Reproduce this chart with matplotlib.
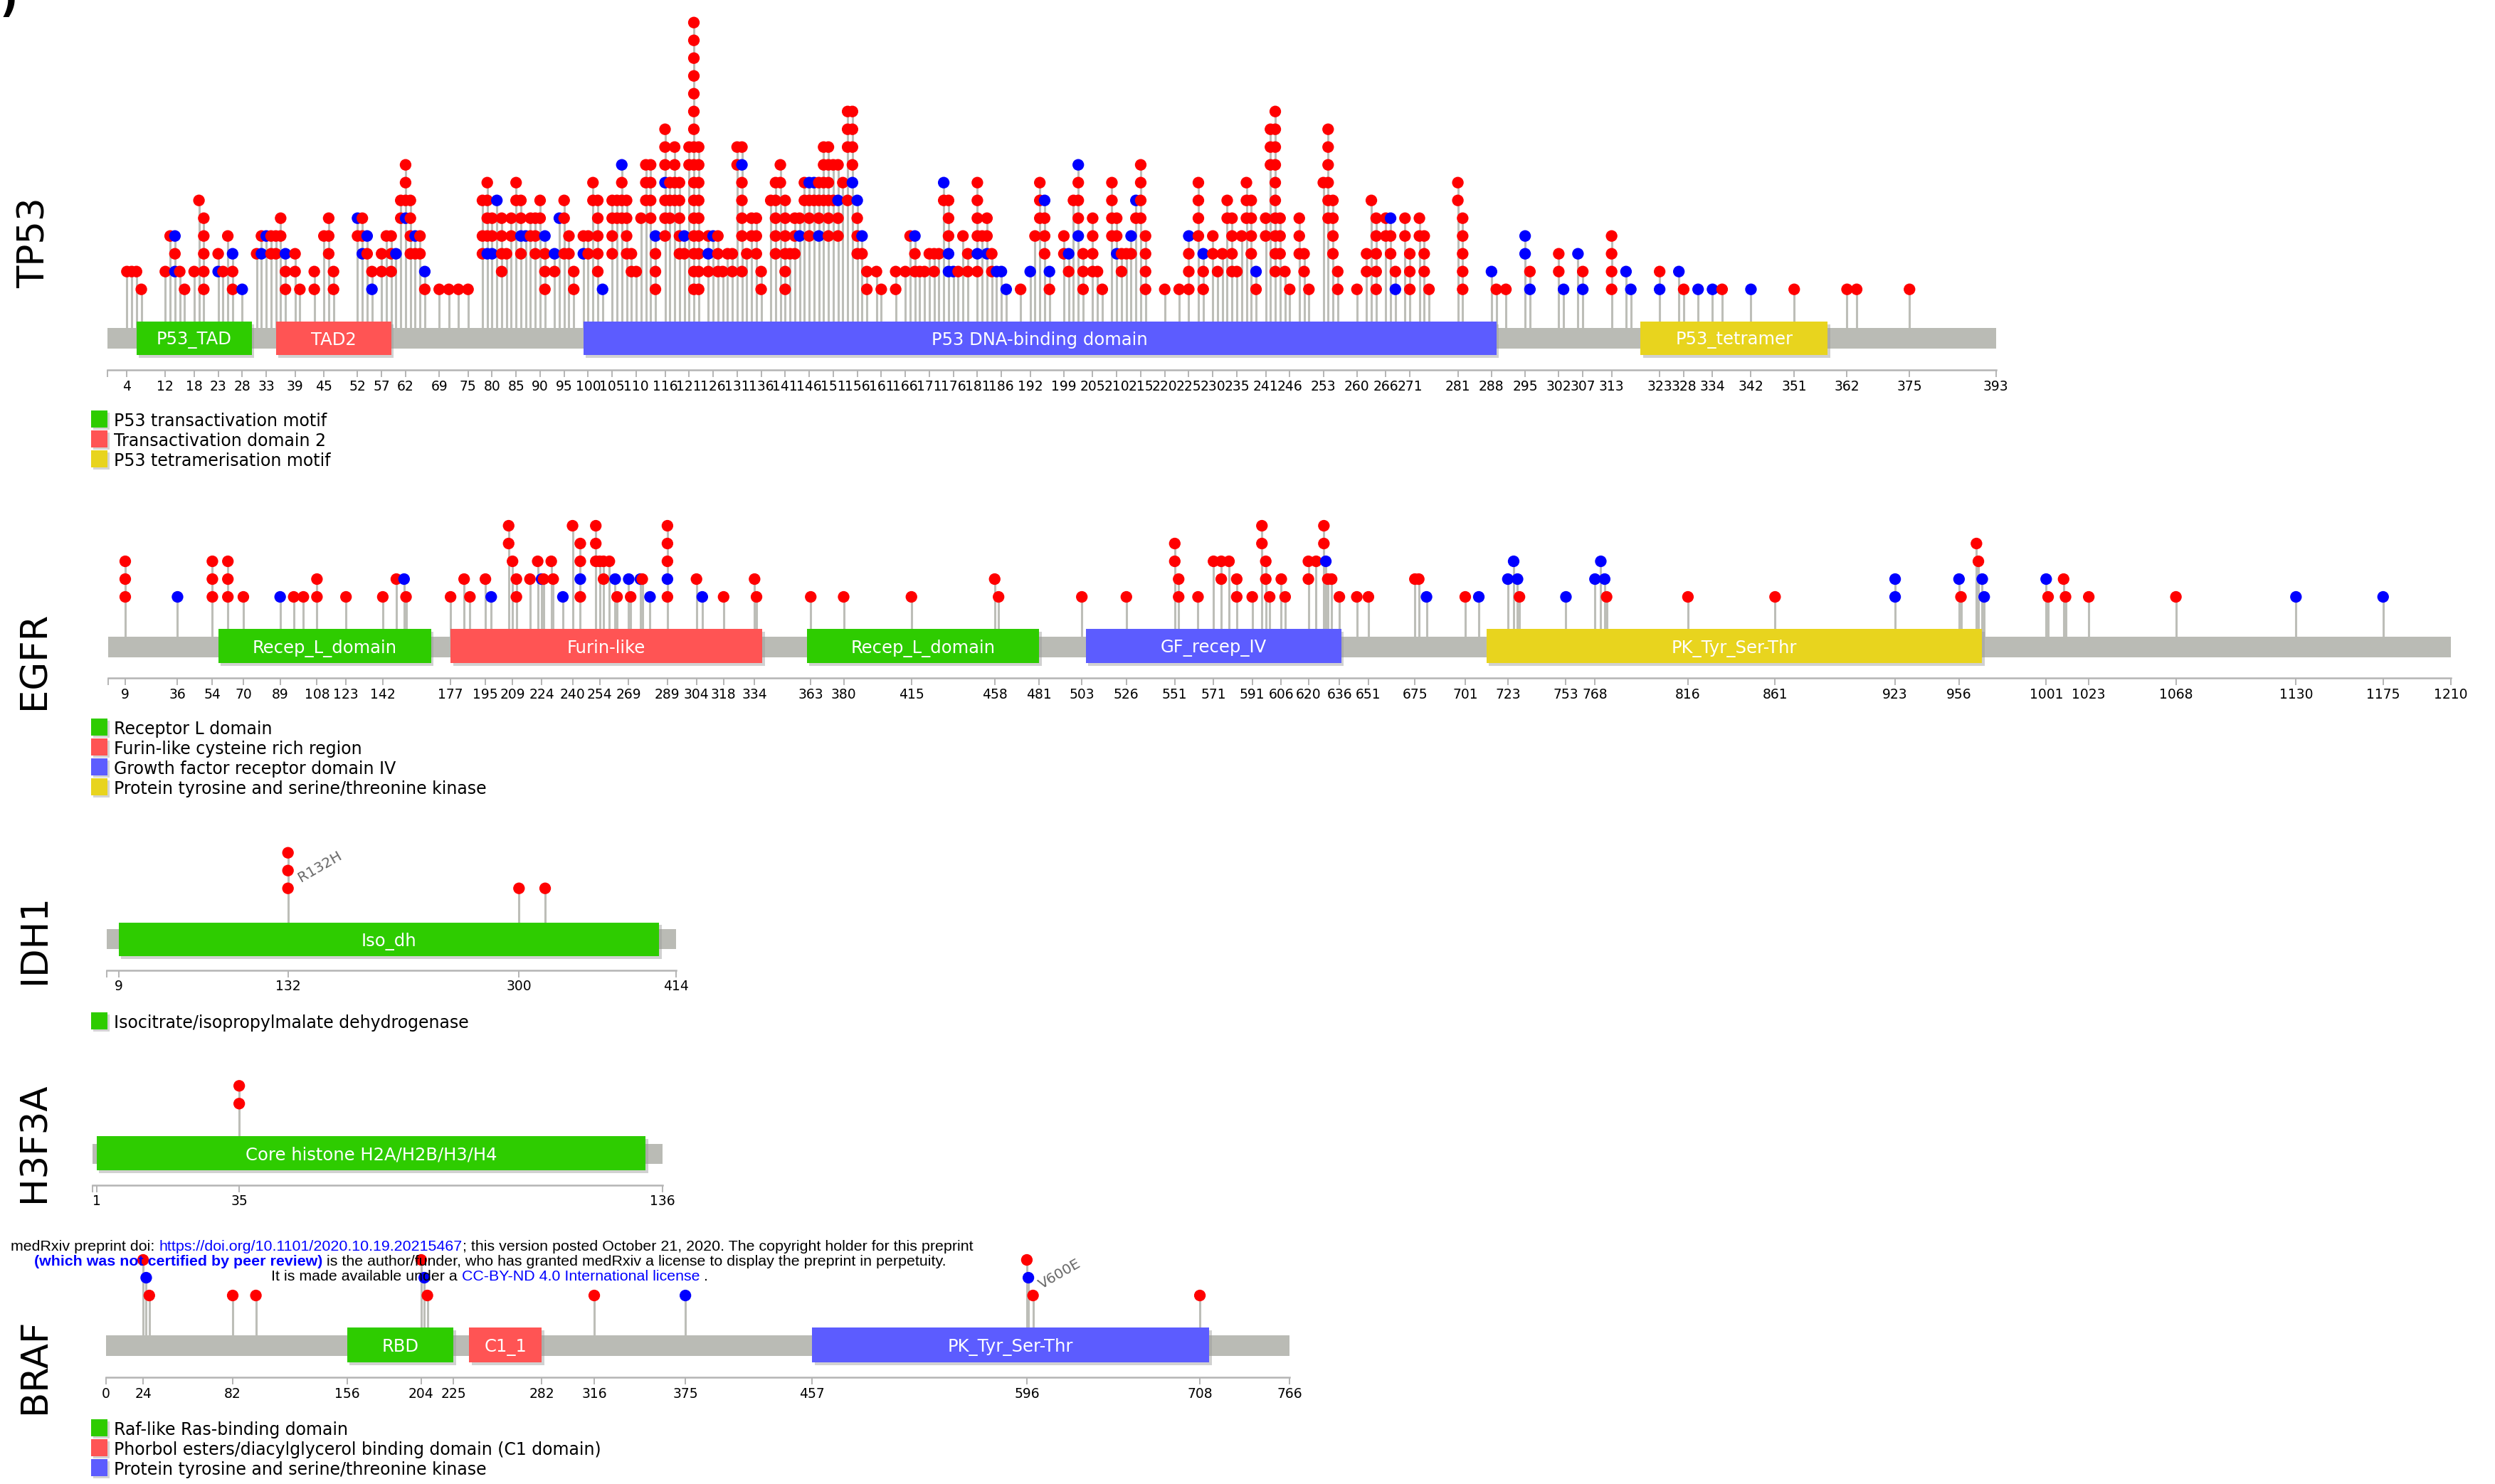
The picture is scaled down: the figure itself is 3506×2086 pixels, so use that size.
import matplotlib
matplotlib.use("Agg")
import matplotlib.pyplot as plt
from matplotlib.patches import Rectangle

# ======================= DATA =======================
COLORS = {"green": "#2ECC00", "red": "#FF5454", "blue": "#5C5CFF", "yellow": "#E8D41E"}
DOT = {"R": "#FF0000", "B": "#0000FF"}

# ---- TP53 ----
tp53_length = 393
tp53_ticks = [4, 12, 18, 23, 28, 33, 39, 45, 52, 57, 62, 69, 75, 80, 85, 90, 95, 100, 105, 110,
              116, 121, 126, 131, 136, 141, 146, 151, 156, 161, 166, 171, 176, 181, 186, 192, 199,
              205, 210, 215, 220, 225, 230, 235, 241, 246, 253, 260, 266, 271, 281, 288, 295, 302,
              307, 313, 323, 328, 334, 342, 351, 362, 375, 393]
tp53_pos = [4, 5, 6, 7, 12, 13, 14, 15, 16, 18, 19, 20, 23, 24, 25, 26, 28, 31, 32, 33, 34, 35, 36,
            37, 39, 40, 43, 45, 46, 47, 52, 53, 54, 55, 57, 58, 59, 60, 61, 62, 63, 64, 65, 66, 69,
            71, 73, 75, 78, 79, 80, 81, 82, 83, 84, 85, 86, 87, 88, 89, 90, 91, 93, 94, 95, 96, 97,
            99, 100, 101, 102, 103, 105, 106, 107, 108, 109, 110, 111, 112, 113, 114, 116, 117, 118,
            119, 120, 121, 122, 123, 125, 126, 127, 128, 129, 130, 131, 132, 133, 134, 135, 136,
            138, 139, 140, 141, 142, 143, 144, 145, 146, 147, 148, 149, 150, 151, 152, 153, 154,
            155, 156, 157, 158, 160, 161, 164, 166, 167, 168, 169, 170, 171, 172, 173, 174, 175,
            176, 177, 178, 179, 181, 182, 183, 184, 185, 186, 187, 190, 192, 193, 194, 195, 196,
            199, 200, 201, 202, 203, 205, 206, 207, 209, 210, 211, 212, 213, 214, 215, 216, 220,
            223, 225, 227, 228, 230, 231, 232, 233, 234, 235, 236, 237, 238, 239, 241, 242, 243,
            244, 245, 246, 248, 249, 250, 253, 254, 255, 256, 260, 262, 263, 264, 266, 267, 268,
            270, 271, 273, 274, 275, 281, 282, 288, 289, 291, 295, 296, 302, 303, 306, 307, 313,
            316, 317, 323, 327, 328, 331, 334, 336, 342, 351, 362, 364, 375]
# stacked markers per position, bottom level first ('.' = no marker at that level)
tp53_stack = [".R", ".R", ".R", "R", ".R", "...R", ".BRB", ".R", "R", ".R", ".....R", "RRRRR",
              ".BR", ".R", "...R", "RRB", "B", "..R", "..BR", "...B", "..RR", "..RR", "...RR",
              "RRB", ".RR", "R", "RR", "...R", "..RRR", "RR", "...RB", "..BRR", "..RB", "BR",
              ".RR", "...R", ".RRR", "..B", "....RR", "....BRRR", "..RRRR", "..RB", "..RR", "RB",
              "R", "R", "R", "R", "..RR.R", "..BRRRR", "..BRR", ".....B", ".RRRR", "..R", "...RR",
              ".....RR", "..RBRR", "...B", "...RR", "..RRR", "....RR", "RRRB", ".RB", "....B",
              "..R.RR", "..RR", "RR", "..BR", "..RR", ".....RR", ".RRRRR", "B", "..RRRR", "....RR",
              "....RRRB", "..RRRR", ".RR", ".R", "....R", ".....RRR", "....RRRR", "RRRB",
              "...RRRBRRR", "....RRR", ".....RRRR", "..RRRRR", "..RB", ".......RR",
              "RRRRRRRRRRRRRRRR", "RRRRRRRRR", ".RBR", "...B", ".RRR", ".R", "..R", ".RR",
              ".......RR", ".R.RRRRBR", "..R", "...RR", "..RRR", "RR", ".....R", "..RRRRR",
              "......RR", "RRRRRR", "..R", "..RRR", "...BR", ".....RR", "...RRRB", ".....RB",
              "...BRRR", ".....RRRR", "...RRRRRR", ".....R.R", "...RRB.R", "......R",
              ".....R..RRR", "......BRRRR", "..RRRB", "..RB", "RR", ".R", "R", "RR", ".R", "...R",
              ".RRB", ".R", ".R", "..R", ".RR", "..R", ".....RB", ".BBRRR", ".B", ".R", "...R",
              ".RR", ".RBRRRR", "...R", "..BRR", ".RR", ".B", ".B", "B", "R", ".B", "...R",
              "....RRR", "..RRRB", "RB", "..RR", ".RB", ".....R", "...BRRRB", "RRR", ".RRRR", ".R",
              "R", "...RRRR", "..BRR", ".RR", "..R", "..RB", "....RB", "....RRRR", "RRRR", "R", "R",
              "RRRB", "...RRRR", "RRB", "..RR", ".R", "..R", "....RR", ".RRRR", ".R", "...R",
              "....RRR", "..RRRR", "RB", "...RR", ".......RRR", ".RRRRRRRRRR", "..RRR", ".R", "R",
              "..RRR", ".RR", "R", "......R", "....RRRRRR", "..RRRR", "RR", "R", ".RR", ".....R",
              "RRRRR", "...RR", "..RRB", "BR", "...RR", "RRR", "...RR", ".RRR", "R", ".....RR",
              "RRRRR", ".B", "R", "R", "..BB", "BR", ".RR", "B", "..B", "BR", "RRRR", ".B", "B",
              "BR", ".B", "R", "B", "B", "R", "B", "R", "R", "R", "R"]
tp53_dom_start = [6, 35, 99, 319]
tp53_dom_end = [30, 59, 289, 358]
tp53_dom_label = ["P53_TAD", "TAD2", "P53 DNA-binding domain", "P53_tetramer"]
tp53_dom_color = ["green", "red", "blue", "yellow"]
tp53_legend_text = ["P53 transactivation motif", "Transactivation domain 2", "P53 tetramerisation motif"]
tp53_legend_color = ["green", "red", "yellow"]

# ---- EGFR ----
egfr_length = 1210
egfr_ticks = [9, 36, 54, 70, 89, 108, 123, 142, 177, 195, 209, 224, 240, 254, 269, 289, 304, 318,
              334, 363, 380, 415, 458, 481, 503, 526, 551, 571, 591, 606, 620, 636, 651, 675, 701,
              723, 753, 768, 816, 861, 923, 956, 1001, 1023, 1068, 1130, 1175, 1210]
egfr_pos = [9, 36, 54, 62, 70, 89, 96, 101, 108, 123, 142, 149, 153, 154, 177, 184, 187, 195, 198,
            207, 209, 211, 218, 222, 224, 225, 229, 230, 235, 240, 244, 252, 254, 256, 259, 262,
            263, 269, 270, 275, 276, 280, 289, 304, 307, 318, 334, 335, 363, 380, 415, 458, 460,
            503, 526, 551, 553, 563, 571, 575, 579, 583, 591, 596, 598, 600, 606, 608, 620, 624,
            628, 629, 630, 632, 636, 645, 651, 675, 677, 681, 701, 708, 723, 726, 728, 729, 753,
            768, 771, 773, 774, 816, 861, 923, 956, 957, 965, 966, 968, 969, 1001, 1002, 1010,
            1011, 1023, 1068, 1130, 1175]
egfr_stack = ["RRR", "B", "RRR", "RRR", "R", "B", "R", "R", "RR", "R", "R", ".R", ".B", "R", "R",
              ".R", "R", ".R", "B", "...RR", "..R", "RR", ".R", "..R", ".B", ".R", "..R", ".R", "B",
              "....R", "RBRR", "..RRR", "..R", ".RR", "..R", ".B", "R", ".B", "R", ".B", ".R", "B",
              "RBRRR", ".R", "B", "R", ".R", "R", "R", "R", "R", ".R", "R", "R", "R", "..RR", "RR",
              "R", "..R", ".RR", "..R", "RR", "R", "...RR", ".RR", "R", ".R", "R", ".RR", "..R",
              "...RR", "..B", ".R", ".R", "R", "R", "R", ".R", ".R", "B", "R", "B", ".B", "..B",
              ".B", "R", "B", ".B", "..B", ".B", "R", "R", "R", "BB", ".B", "R", "...R", "..R",
              ".B", "B", ".B", "R", ".R", "R", "R", "R", "B", "B"]
egfr_dom_start = [57, 177, 361, 505, 712]
egfr_dom_end = [167, 338, 481, 637, 968]
egfr_dom_label = ["Recep_L_domain", "Furin-like", "Recep_L_domain", "GF_recep_IV", "PK_Tyr_Ser-Thr"]
egfr_dom_color = ["green", "red", "green", "blue", "yellow"]
egfr_legend_text = ["Receptor L domain", "Furin-like cysteine rich region",
                    "Growth factor receptor domain IV", "Protein tyrosine and serine/threonine kinase"]
egfr_legend_color = ["green", "red", "blue", "yellow"]

# ---- IDH1 ----
idh1_length = 414
idh1_ticks = [9, 132, 300, 414]
idh1_pos = [132, 300, 319]
idh1_stack = ["RRR", "R", "R"]
idh1_dom_start = [9]
idh1_dom_end = [402]
idh1_dom_label = ["Iso_dh"]
idh1_dom_color = ["green"]
idh1_legend_text = ["Isocitrate/isopropylmalate dehydrogenase"]
idh1_legend_color = ["green"]
idh1_annot_pos = 132
idh1_annot = "R132H"

# ---- H3F3A ----
h3f3a_length = 136
h3f3a_ticks = [1, 35, 136]
h3f3a_pos = [35]
h3f3a_stack = ["RR"]
h3f3a_dom_start = [1]
h3f3a_dom_end = [132]
h3f3a_dom_label = ["Core histone H2A/H2B/H3/H4"]
h3f3a_dom_color = ["green"]

# ---- BRAF ----
braf_length = 766
braf_ticks = [0, 24, 82, 156, 204, 225, 282, 316, 375, 457, 596, 708, 766]
braf_pos = [24, 26, 28, 82, 97, 204, 206, 208, 316, 375, 596, 597, 600, 708]
braf_stack = ["..R", ".B", "R", "R", "R", "..R", ".B", "R", "R", "B", "..R", ".B", "R", "R"]
braf_dom_start = [156, 235, 457]
braf_dom_end = [225, 282, 714]
braf_dom_label = ["RBD", "C1_1", "PK_Tyr_Ser-Thr"]
braf_dom_color = ["green", "red", "blue"]
braf_legend_text = ["Raf-like Ras-binding domain",
                    "Phorbol esters/diacylglycerol binding domain (C1 domain)",
                    "Protein tyrosine and serine/threonine kinase"]
braf_legend_color = ["green", "red", "blue"]
braf_annot_pos = 600
braf_annot = "V600E"

# ======================= LAYOUT / DRAWING =======================
W, H, DPI = 3506, 2086, 100
fig = plt.figure(figsize=(W / DPI, H / DPI), dpi=DPI)
fig.patch.set_facecolor("white")

STEM = "#BDBEB8"
BACK = "#BABBB5"
AXC = "#B4B4B4"
LEV = 25.0  # pixel spacing of stacked markers


def draw_panel(length, x0, x1, yl1, bb, dom, axis_y, pos, stack, ds, de, dl, dc, ticks,
               zero_minor=True):
    y_top = yl1 - LEV * 17
    y_bot = axis_y + 60
    ax = fig.add_axes([x0 / W, 1 - y_bot / H, (x1 - x0) / W, (y_bot - y_top) / H])
    ax.patch.set_visible(False)

    def lv(py):
        return 1 + (yl1 - py) / LEV

    ppa = (x1 - x0) / length  # pixels per residue
    ax.set_xlim(0, length)
    ax.set_ylim(lv(y_bot), lv(y_top))

    # stems
    tops = [len(s) for s in stack]
    ax.vlines(pos, lv(bb[0]), tops, color=STEM, lw=2.2, zorder=1)
    # backbone
    ax.add_patch(Rectangle((0, lv(bb[1])), length, lv(bb[0]) - lv(bb[1]),
                           facecolor=BACK, edgecolor="none", zorder=2))
    # domains
    for s, e, lab, c in zip(ds, de, dl, dc):
        ax.add_patch(Rectangle((s + 3.5 / ppa, lv(dom[1] + 3.5)), e - s, lv(dom[0]) - lv(dom[1]),
                               facecolor="#9a9a9a", alpha=0.45, edgecolor="none", zorder=2.5))
        ax.add_patch(Rectangle((s, lv(dom[1])), e - s, lv(dom[0]) - lv(dom[1]),
                               facecolor=COLORS[c], edgecolor="none", zorder=3))
        ax.text((s + e) / 2, lv((dom[0] + dom[1]) / 2), lab, color="white", fontsize=17.5,
                ha="center", va="center_baseline", zorder=3.5)
    # markers
    xs, ys, cs = [], [], []
    for p, s in zip(pos, stack):
        for i, ch in enumerate(s):
            if ch != ".":
                xs.append(p)
                ys.append(i + 1)
                cs.append(DOT[ch])
    ax.scatter(xs, ys, c=cs, s=138, linewidths=0, zorder=4, clip_on=False)

    # ruler axis
    for sp in ["left", "right", "top"]:
        ax.spines[sp].set_visible(False)
    ax.spines["bottom"].set_position(("data", lv(axis_y)))
    ax.spines["bottom"].set_bounds(0, length)
    ax.spines["bottom"].set_color(AXC)
    ax.spines["bottom"].set_linewidth(1.8)
    ax.set_yticks([])
    ax.set_xticks(ticks)
    ax.set_xticklabels([str(t) for t in ticks])
    if zero_minor:
        ax.set_xticks([0], minor=True)
    ax.tick_params(axis="x", which="both", direction="out", length=7, width=1.4, color=AXC,
                   labelsize=13.5, pad=3, labelcolor="black")
    return ax, lv


ax_tp53, _ = draw_panel(tp53_length, 151.3, 2804.8, 406.7, (461, 490), (452, 499), 520,
                        tp53_pos, tp53_stack, tp53_dom_start, tp53_dom_end, tp53_dom_label,
                        tp53_dom_color, tp53_ticks)
ax_egfr, _ = draw_panel(egfr_length, 151.5, 3444, 839, (895, 924), (884, 932), 953,
                        egfr_pos, egfr_stack, egfr_dom_start, egfr_dom_end, egfr_dom_label,
                        egfr_dom_color, egfr_ticks)
ax_idh1, lv_idh1 = draw_panel(idh1_length, 149.6, 949.6, 1248.7, (1305.5, 1333.6), (1296.5, 1344.4),
                              1363.5, idh1_pos, idh1_stack, idh1_dom_start, idh1_dom_end,
                              idh1_dom_label, idh1_dom_color, idh1_ticks)
ax_h3, _ = draw_panel(h3f3a_length, 130, 931, 1551.3, (1607.5, 1635.6), (1597.4, 1645), 1665.5,
                      h3f3a_pos, h3f3a_stack, h3f3a_dom_start, h3f3a_dom_end, h3f3a_dom_label,
                      h3f3a_dom_color, h3f3a_ticks)
ax_braf, lv_braf = draw_panel(braf_length, 149, 1812, 1821, (1877, 1906), (1866, 1915), 1936,
                              braf_pos, braf_stack, braf_dom_start, braf_dom_end, braf_dom_label,
                              braf_dom_color, braf_ticks, zero_minor=False)

# mutation annotations
ax_idh1.text(idh1_annot_pos + 9.5, 1.33, idh1_annot, rotation=30, rotation_mode="anchor",
             ha="left", va="baseline", fontsize=14.5, color="#666666", zorder=5)
ax_braf.text(braf_annot_pos + 5.5, 1.36, braf_annot, rotation=30, rotation_mode="anchor",
             ha="left", va="baseline", fontsize=14.5, color="#666666", zorder=5)

# ---------------- overlay (pixel coordinates) ----------------
ov = fig.add_axes([0, 0, 1, 1])
ov.set_xlim(0, W)
ov.set_ylim(H, 0)
ov.axis("off")
ov.patch.set_visible(False)
ov.set_zorder(10)

# gene names
for name, yc in [("TP53", 341), ("EGFR", 928), ("IDH1", 1320), ("H3F3A", 1606), ("BRAF", 1920)]:
    ov.text(49, yc, name, rotation=90, fontsize=37, ha="center", va="center", color="black")

# legends
def legend(texts, cols, top):
    for i, (t, c) in enumerate(zip(texts, cols)):
        y = top + 28 * i
        ov.add_patch(Rectangle((131, y + 3), 23, 24, facecolor="#a0a0a0", alpha=0.45,
                               edgecolor="none"))
        ov.add_patch(Rectangle((128, y), 23, 24, facecolor=COLORS[c], edgecolor="none"))
        ov.text(160, y + 22, t, fontsize=17, ha="left", va="baseline", color="black")


legend(tp53_legend_text, tp53_legend_color, 577)
legend(egfr_legend_text, egfr_legend_color, 1010)
legend(idh1_legend_text, idh1_legend_color, 1423)
legend(braf_legend_text, braf_legend_color, 1995)

# partial panel letter at the top-left corner (cut by the page edge, as in the source)
ov.text(12, 2, ")", fontsize=40, fontweight="bold", ha="center", va="center")

# medRxiv stamp
WM = "Liberation Sans"
BL = "#0000FF"
FS = 15.4
stamp = [
    (15, 1758, [("medRxiv preprint doi: ", "black", "normal"),
                ("https://doi.org/10.1101/2020.10.19.20215467", BL, "normal"),
                ("; this version posted October 21, 2020. The copyright holder for this preprint",
                 "black", "normal")]),
    (48, 1779, [("(which was not certified by peer review)", BL, "bold"),
                (" is the author/funder, who has granted medRxiv a license to display the preprint in perpetuity.",
                 "black", "normal")]),
    (381, 1800, [("It is made available under a ", "black", "normal"),
                 ("CC-BY-ND 4.0 International license", BL, "normal"),
                 (" .", "black", "normal")]),
]
for x, y, segs in stamp:
    prev = None
    for txt, col, wt in segs:
        if prev is None:
            prev = ov.text(x, y, txt, fontsize=FS, family=WM, color=col, fontweight=wt,
                           ha="left", va="baseline", zorder=20)
        else:
            prev = ov.annotate(txt, xy=(1, 0), xycoords=prev, fontsize=FS, family=WM,
                               color=col, fontweight=wt, ha="left", va="bottom", zorder=20)

fig.savefig("out.png", dpi=DPI, facecolor="white")
